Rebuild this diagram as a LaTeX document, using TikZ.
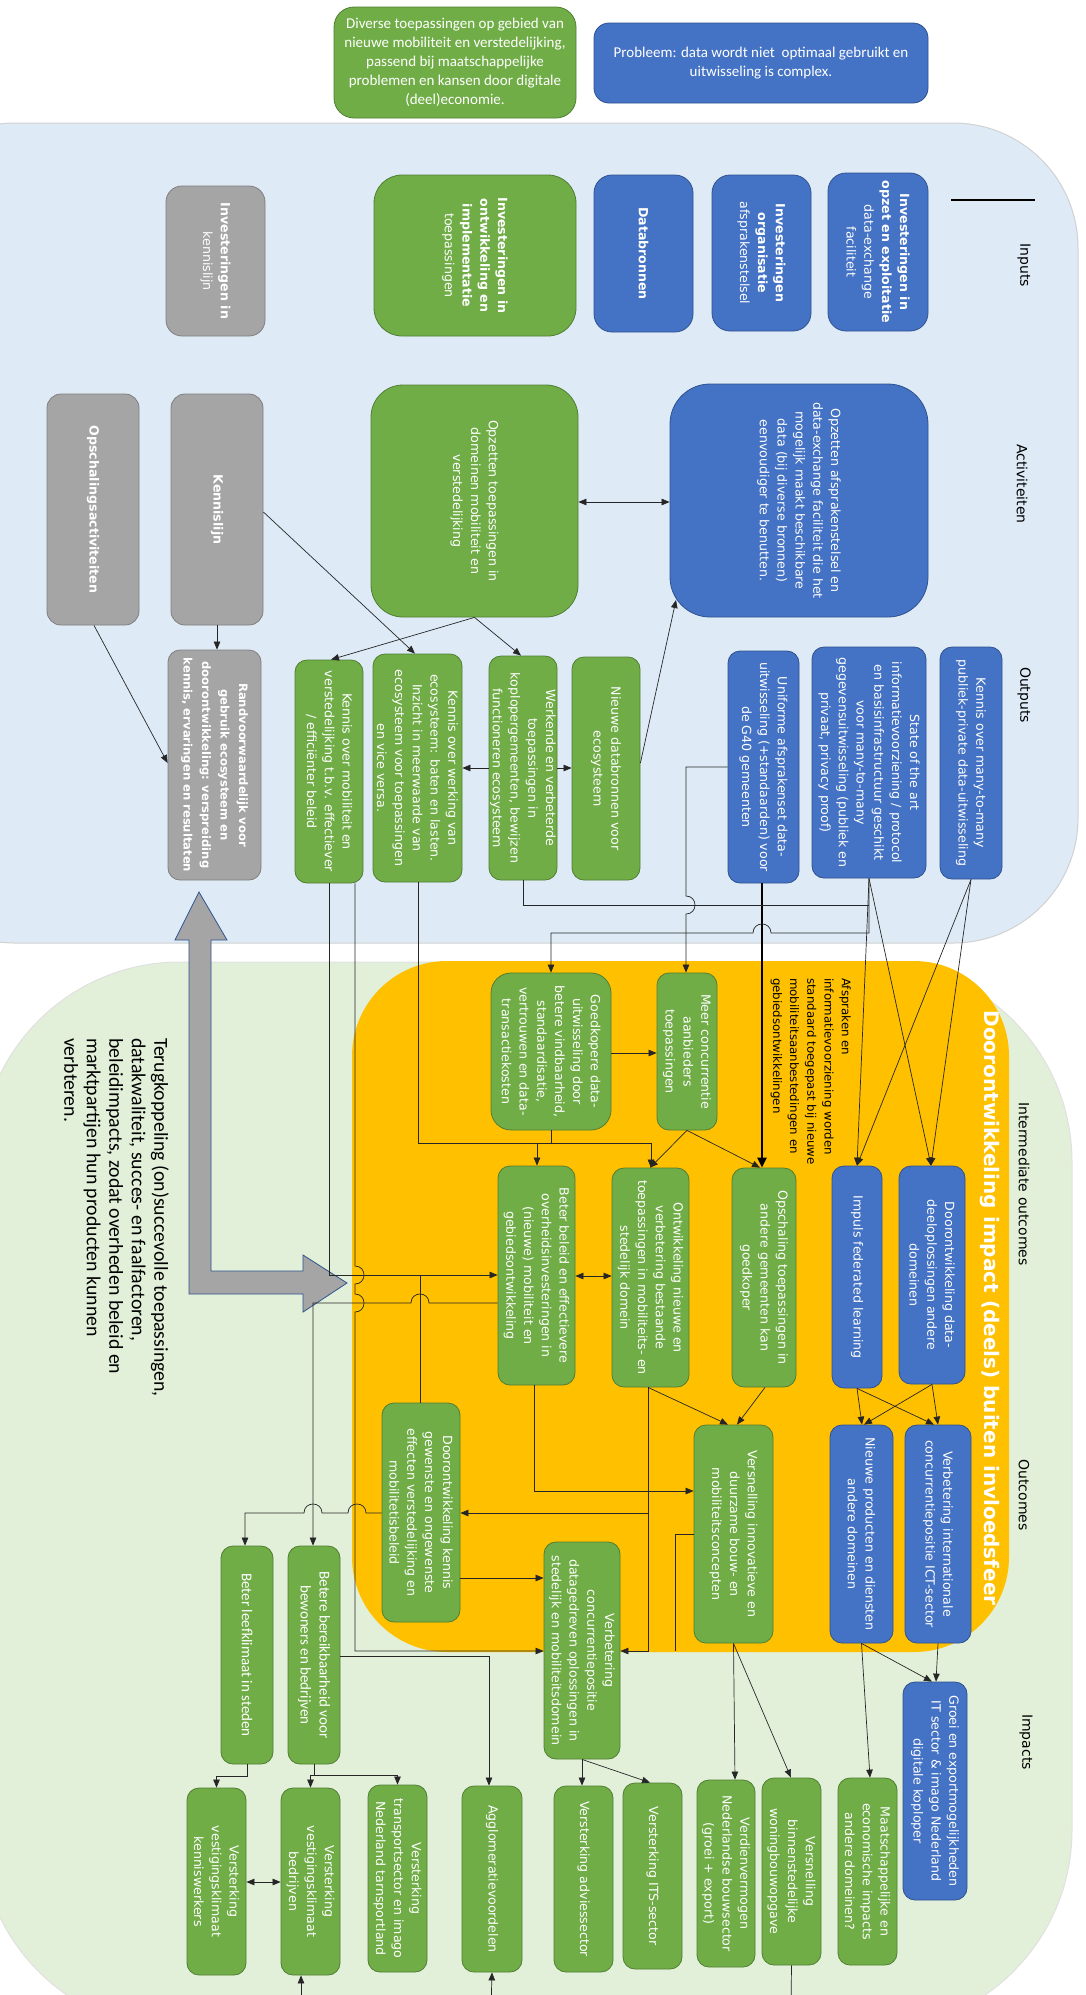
\documentclass[tikz,border=0pt]{standalone}
\usepackage{fontspec}
\setmainfont{DejaVu Sans}
\newfontfamily\calib{Carlito}
\usepackage{graphicx}
\usetikzlibrary{arrows.meta}

\definecolor{bxblue}{HTML}{4472C4}
\definecolor{bxblueD}{HTML}{2F528F}
\definecolor{bxgreen}{HTML}{70AD47}
\definecolor{bxgreenD}{HTML}{507E32}
\definecolor{bxgray}{HTML}{A5A5A5}
\definecolor{bxgrayD}{HTML}{7F7F7F}
\definecolor{zoneblue}{HTML}{DEEBF7}
\definecolor{zonegreen}{HTML}{E2F0D9}
\definecolor{zoneyellow}{HTML}{FFC000}

\tikzset{
  base/.style={rounded corners=12pt, inner sep=0pt, line width=0.8pt, text=white,
    font=\fontsize{12.6}{17.8}\selectfont},
  bluebox/.style={base, fill=bxblue, draw=bxblueD},
  greenbox/.style={base, fill=bxgreen, draw=bxgreenD},
  graybox/.style={base, fill=bxgray, draw=bxgrayD},
  calibbox/.style={greenbox, font=\calib\fontsize{15}{19}\selectfont},
  conn/.style={line width=0.7pt, draw=black!85},
  arr/.style={conn, -{Triangle[length=8pt,width=6.5pt]}},
  darr/.style={conn, {Triangle[length=8pt,width=6.5pt]}-{Triangle[length=8pt,width=6.5pt]}},
  thickarr/.style={line width=2.2pt, draw=black, -{Triangle[length=10pt,width=9pt]}},
  lbl/.style={inner sep=0pt, font=\fontsize{14}{17}\selectfont},
}

% box given by its page corners (x1,y1)-(x2,y2); text runs top to bottom
\newcommand{\boxat}[7]{%
  \pgfmathsetmacro{\bxL}{#6-#4-6}%
  \node[#1, minimum width={(#5-#3)*1pt}, minimum height={(#6-#4)*1pt}]
    (#2) at ({(#3+#5)/2},{(#4+#6)/2})
    {\rotatebox{-90}{\parbox{\bxL pt}{\centering #7}}};}

\begin{document}
\begin{tikzpicture}[x=1pt,y=-1pt]
\useasboundingbox (0,0) rectangle (1086,1995);
\fill[white] (0,0) rectangle (1086,1995);

% ---------- zones ----------
\path[fill=zoneblue, draw=black!18, line width=1pt, rounded corners=125pt] (-110,123) rectangle (1078,943);
\path[fill=zonegreen, draw=black!12, line width=1pt, rounded corners=200pt] (-20,962) rectangle (1072,2030);
\path[fill=zoneyellow, rounded corners=95pt] (352,961) rectangle (1009,1652);

% ---------- feedback block arrow ----------
\fill[bxgray, draw=bxblueD, line width=0.8pt]
  (199,892) -- (227,940) -- (211,940) -- (211,1271) -- (303,1271) -- (303,1255)
  -- (347,1283) -- (303,1312) -- (303,1294) -- (189,1294) -- (189,940) -- (175,940) -- cycle;

% ---------- top boxes ----------
\node[greenbox, rounded corners=20pt, font=\calib\fontsize{15}{19}\selectfont, align=center,
  minimum width=242pt, minimum height=111pt] (goal) at (455,62.5)
  {Diverse toepassingen op gebied van\\ nieuwe mobiliteit en verstedelijking,\\ passend bij maatschappelijke\\ problemen en kansen door digitale\\ (deel)economie.};
\node[bluebox, rounded corners=15pt, font=\calib\fontsize{15}{19}\selectfont, align=center,
  minimum width=334pt, minimum height=80pt] (problem) at (761,63)
  {Probleem: data wordt niet \ optimaal gebruikt en\\ uitwisseling is complex.};

% ---------- column labels ----------
\node[lbl] (lIn)  at (1024,265)  {\rotatebox{-90}{Inputs}};
\node[lbl] (lAct) at (1022,484)  {\rotatebox{-90}{Activiteiten}};
\node[lbl] (lOut) at (1024,695)  {\rotatebox{-90}{Outputs}};
\node[lbl] (lInt) at (1024,1184) {\rotatebox{-90}{Intermediate outcomes}};
\node[lbl] (lOc)  at (1024,1495) {\rotatebox{-90}{Outcomes}};
\node[lbl] (lImp) at (1026,1742) {\rotatebox{-90}{Impacts}};
\draw[line width=2.5pt] (951,200) -- (1035,200);

% ---------- inputs ----------
\boxat{bluebox, rounded corners=18pt}{I1}{828}{173}{928}{331}{\textbf{Investeringen in\\ opzet en exploitatie}\\ data-exchange\\ faciliteit}
\boxat{bluebox, rounded corners=18pt}{I2}{712}{175}{811}{331}{\textbf{Investeringen\\ organisatie}\\ afsprakenstelsel}
\boxat{bluebox, rounded corners=18pt}{I3}{594}{175}{693}{332}{\textbf{Databronnen}}
\boxat{greenbox, rounded corners=28pt}{I4}{374}{175}{576}{336}{\textbf{Investeringen in\\ ontwikkeling en\\ implementatie}\\ toepassingen}
\boxat{graybox, rounded corners=16pt}{I5}{166}{186}{265}{336}{\textbf{Investeringen in}\\ kennislijn}

% ---------- activities ----------
\boxat{bluebox, rounded corners=40pt}{A1}{670}{384}{928}{617}{Opzetten afsprakenstelsel en\\ data-exchange faciliteit die het\\ mogelijk maakt beschikbare\\ data (bij diverse bronnen)\\ eenvoudiger te benutten.}
\boxat{greenbox, rounded corners=32pt}{A2}{371}{385}{578}{617}{Opzetten toepassingen in\\ domeinen mobiliteit en\\ verstedelijking}
\boxat{graybox, rounded corners=14pt}{A3}{171}{394}{263}{625}{\textbf{Kennislijn}}
\boxat{graybox, rounded corners=14pt}{A4}{47}{394}{139}{625}{\textbf{Opschalingsactiviteiten}}

% ---------- outputs ----------
\boxat{bluebox}{O1}{940}{647}{1002}{879}{Kennis over many-to-many\\ publiek-private data-uitwisseling}
\boxat{bluebox}{O2}{812}{647}{926}{878}{State of the art\\ informatievoorziening / protocol\\ en basisinfrastructuur geschikt\\ voor many-to-many\\ gegevensuitwisseling (publiek en\\ privaat, privacy proof)}
\boxat{bluebox}{O3}{728}{651}{799}{883}{Uniforme afsprakenset data-\\ uitwisseling (+standaarden) voor\\ de G40 gemeenten}
\boxat{greenbox}{O4}{572}{657}{640}{880}{Nieuwe databronnen voor\\ ecosysteem}
\boxat{greenbox}{O5}{489}{656}{557}{880}{Werkende en verbeterde\\ toepassingen in\\ koplopergemeenten, bewijzen\\ functioneren ecosysteem}
\boxat{greenbox}{O6}{373}{654}{462}{882}{Kennis over werking van\\ ecosysteem: baten en lasten.\\ Inzicht in meerwaarde van\\ ecosysteem voor toepassingen\\ en vice versa.}
\boxat{greenbox}{O7}{295}{660}{363}{883}{Kennis over mobiliteit en\\ verstedelijking t.b.v. effectiever\\ / efficiënter beleid}
\boxat{graybox, font=\fontsize{11.6}{18.5}\selectfont}{O8}{168}{650}{261}{880}{\textbf{Randvoorwaardelijk voor\\ gebruik ecosysteem en\\ doorontwikkeling: verspreiding\\ kennis, ervaringen en resultaten}}

% ---------- intermediate outcomes ----------
\node[inner sep=0pt, text=white, font=\bfseries\fontsize{20}{24}\selectfont] (title) at (990,1308)
  {\rotatebox{-90}{Doorontwikkeling impact (deels) buiten invloedsfeer}};
\node[inner sep=0pt, anchor=north east, font=\fontsize{11.8}{17.2}\selectfont] (afspr) at (851,978)
  {\rotatebox{-90}{\parbox[t]{200pt}{\raggedright Afspraken en\\ informatievoorziening worden\\ standaard toegepast bij nieuwe\\ mobiliteitsaanbestedingen en\\ gebiedsontwikkelingen}}};

\boxat{greenbox, rounded corners=20pt}{IMG}{491}{973}{611}{1130}{Goedkopere data-\\ uitwisseling door\\ betere vindbaarheid,\\ standaardisatie,\\ vertrouwen en data-\\ transactiekosten}
\boxat{greenbox}{IMC}{657}{973}{717}{1130}{Meer concurrentie\\ aanbieders\\ toepassingen}
\boxat{greenbox}{IM6}{498}{1166}{575}{1385}{Beter beleid en effectievere\\ overheidsinvesteringen in\\ (nieuwe) mobiliteit en\\ gebiedsontwikkeling}
\boxat{greenbox}{IM2}{612}{1168}{689}{1387}{Ontwikkeling nieuwe en\\ verbetering bestaande\\ toepassingen in mobiliteits- en\\ stedelijk domein}
\boxat{greenbox}{IM3}{732}{1168}{796}{1387}{Opschaling toepassingen in\\ andere gemeenten kan\\ goedkoper}
\boxat{bluebox}{IM4}{832}{1166}{882}{1388}{Impuls federated learning}
\boxat{bluebox}{IM5}{899}{1166}{965}{1384}{Doorontwikkeling data-\\ deeloplossingen andere\\ domeinen}

% ---------- outcomes ----------
\boxat{greenbox}{IM7}{382}{1403}{460}{1622}{Doorontwikkeling kennis\\ gewenste en ongewenste\\ effecten verstedelijking en\\ mobilitetisbeleid}
\boxat{greenbox}{IMV}{544}{1542}{620}{1759}{Verbetering\\ concurrentiepositie\\ datagedreven oplossingen in\\ stedelijk en mobiliteitsdomein}
\boxat{greenbox}{IMW}{694}{1425}{773}{1643}{Versnelling innovatieve en\\ duurzame bouw- en\\ mobiliteitsconcepten}
\boxat{bluebox}{IMN}{830}{1425}{893}{1643}{Nieuwe producten en diensten\\ andere domeinen}
\boxat{bluebox}{IMI}{905}{1425}{971}{1643}{Verbetering internationale\\ concurrentiepositie ICT-sector}
\boxat{calibbox}{BB}{288}{1546}{340}{1764}{Betere bereikbaarheid voor\\ bewoners en bedrijven}
\boxat{calibbox}{BL}{221}{1546}{273}{1764}{Beter leefklimaat in steden}

% ---------- impacts ----------
\boxat{bluebox}{GR}{903}{1682}{967}{1900}{Groei en exportmogelijkheden\\ IT sector \& imago Nederland\\ digitale koploper}
\boxat{greenbox}{K1}{187}{1788}{246}{1975}{Versterking\\ vestigingsklimaat\\ kenniswerkers}
\boxat{greenbox}{K2}{281}{1788}{340}{1975}{Versterking\\ vestigingsklimaat\\ bedrijven}
\boxat{greenbox}{K3}{368}{1785}{427}{1972}{Versterking\\ transportsector en imago\\ Nederland tarnsportland}
\boxat{greenbox}{K4}{462}{1786}{522}{1972}{Agglomeratievoordelen}
\boxat{greenbox}{K5}{554}{1786}{613}{1972}{Versterking adviessector}
\boxat{greenbox}{K6}{623}{1783}{682}{1969}{Versterking ITS-sector}
\boxat{greenbox}{K7}{697}{1780}{755}{1967}{Verdienvermogen\\ Nederlandse bouwsector\\ (groei + export)}
\boxat{greenbox}{K8}{762}{1778}{821}{1965}{Versnelling\\ binnenstedelijke\\ woningbouwopgave}
\boxat{greenbox}{K9}{838}{1778}{897}{1965}{Maatschappelijke en\\ economische impacts\\ andere domeinen?}

% ---------- feedback text ----------
\node[inner sep=0pt, anchor=north east, font=\calib\fontsize{19.8}{22.5}\selectfont] (fb) at (169,1038)
  {\rotatebox{-90}{\parbox[t]{430pt}{\raggedright Terugkoppeling (on)succevolle toepassingen,\\ datakwaliteit, succes- en faalfactoren,\\ beleidimpacts, zodat overheden beleid en\\ marktpartijen hun producten kunnen\\ verbteren.}}};

% ---------- connectors: activities -> outputs ----------
\draw[darr] (A2.east |- 0,502) -- (A1.west |- 0,502);
\draw[arr] (A3.south) -- (A3.south |- O8.north);
\draw[arr] (94,0 |- A4.south) -- (O8.west |- 0,763);
\draw[arr] (A3.east |- 0,512) -- (415,0 |- O6.north);
\draw[arr] (A2.south) -- (331,0 |- O7.north);
\draw[arr] (A2.south) -- (521,0 |- O5.north);
\draw[arr] (O4.east |- 0,763) -- (676,600);
\draw[arr] (O5.west |- 0,768) -- (O6.east |- 0,768);
\draw[arr] (O5.east |- 0,768) -- (O4.west |- 0,768);

% ---------- connectors: outputs -> intermediate ----------
\draw[thickarr] (762,0 |- O3.south) -- (762,0 |- IM3.north);
\draw[conn] (O5.south) -- (O5.south |- 0,905) -- (O2.south |- 0,905);
\draw[arr] (O3.west |- 0,767) -- (686,767) -- (686,896)
  .. controls (698,896) and (698,914) .. (686,914) -- (686,0 |- IMC.north);
\draw[arr] (O2.south) -- (O2.south |- 0,933) -- (771,933)
  .. controls (771,921) and (753,921) .. (753,933) -- (551,933) -- (551,0 |- IMG.north);
\draw[arr] (O2.south) -- (857,0 |- IM4.north);
\draw[arr] (O2.south) -- (931,0 |- IM5.north);
\draw[arr] (O1.south) -- (857,0 |- IM4.north);
\draw[arr] (O1.south) -- (931,0 |- IM5.north);
\draw[arr] (418,0 |- O6.south) -- (418,1143) -| (651,0 |- IM2.north);
\draw[arr] (329,0 |- O7.south) -- (329,1275) -- (IM6.west |- 0,1275);
\draw[arr] (355,0 |- O7.south) -- (355,1266)
  .. controls (367,1266) and (367,1284) .. (355,1284) -- (355,1294)
  .. controls (367,1294) and (367,1312) .. (355,1312) -- (355,1651) -- (IMV.west |- 0,1651);

% ---------- connectors: within intermediate / outcomes ----------
\draw[arr] (IMG.east |- 0,1053) -- (IMC.west |- 0,1053);
\draw[arr] (IMC.south) -- (650,0 |- IM2.north);
\draw[arr] (IMC.south) -- (760,0 |- IM3.north);
\draw[conn] (551,0 |- IMG.south) -- (551,1143);
\draw[arr] (537,1143) -- (537,0 |- IM6.north);
\draw[darr] (IM6.east |- 0,1276) -- (IM2.west |- 0,1276);
\draw[conn] (420,0 |- IM7.north) -- (420,1275);
\draw[arr] (IM6.west |- 0,1303) -- (429,1303)
  .. controls (429,1291) and (411,1291) .. (411,1303) -- (313,1303) -- (313,0 |- BB.north);
\draw[arr] (534,0 |- IM6.south) -- (534,1491) -- (IMW.west |- 0,1491);
\draw[arr] (648,0 |- IM2.south) -- (648,1651) -- (IMV.east |- 0,1651);
\draw[arr] (648,1513) -- (IM7.east |- 0,1513);
\draw[conn] (IMW.west |- 0,1534) -- (675,1534) -- (675,1651);
\draw[arr] (IM7.east |- 0,1578) -- (IMV.west |- 0,1578);
\draw[arr] (IM7.west |- 0,1513) -- (366,1513)
  .. controls (366,1501) and (348,1501) .. (348,1513) -- (322,1513)
  .. controls (322,1501) and (304,1501) .. (304,1513) -- (245,1513) -- (245,0 |- BL.north);
\draw[arr] (648,0 |- IM2.south) -- (728,0 |- IMW.north);
\draw[arr] (765,0 |- IM3.south) -- (737,0 |- IMW.north);
\draw[arr] (IM4.south) -- (862,0 |- IMN.north);
\draw[arr] (IM4.south) -- (934,0 |- IMI.north);
\draw[arr] (IM5.south) -- (864,0 |- IMN.north);
\draw[arr] (IM5.south) -- (938,0 |- IMI.north);

% ---------- connectors: outcomes -> impacts ----------
\draw[arr] (IMW.south) -- (735,0 |- K7.north);
\draw[arr] (IMW.south) -- (791,0 |- K8.north);
\draw[arr] (IMN.south) -- (870,0 |- K9.north);
\draw[arr] (IMN.south) -- (932,0 |- GR.north);
\draw[arr] (IMI.south) -- (936,0 |- GR.north);
\draw[arr] (IMV.south) -- (582,0 |- K5.north);
\draw[arr] (IMV.south) -- (650,0 |- K6.north);
\draw[arr] (BB.east |- 0,1656) -- (489,1656) -- (489,0 |- K4.north);
\draw[arr] (BL.south) -- ++(0,12) -| (K1.north);
\draw[arr] (BB.south) -- ++(0,11) -| (K2.north);
\draw[arr] (BB.south) -- ++(0,11) -| (K3.north);
\draw[darr] (K1.east |- 0,1882) -- (K2.west |- 0,1882);

% ---------- connectors continuing below ----------
\coordinate (belowA) at (491,2010);
\coordinate (belowB) at (301,2010);
\coordinate (belowC) at (791,2010);
\draw[arr] (belowA) -- (K4.south);
\draw[arr] (belowB) -- (301,0 |- K2.south);
\draw[conn] (K8.south) -- (belowC);
\end{tikzpicture}
\end{document}
